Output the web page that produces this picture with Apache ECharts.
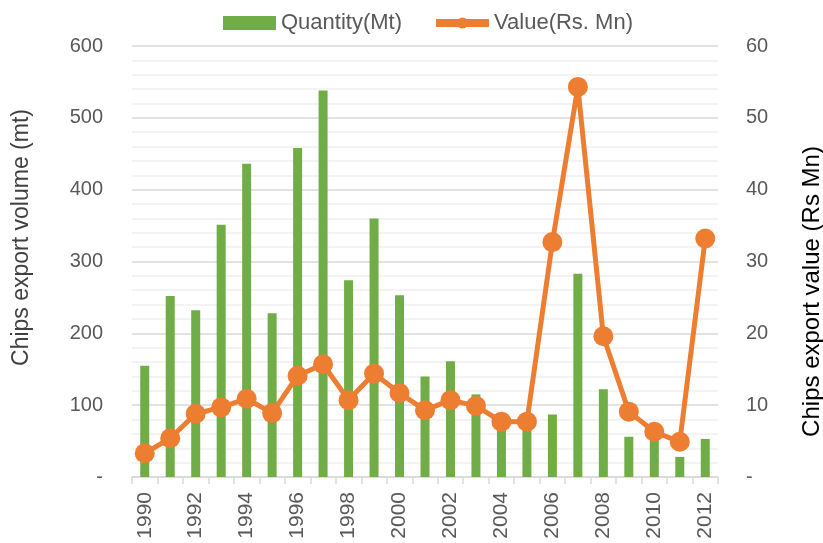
<!DOCTYPE html>
<html><head><meta charset="utf-8">
<script src="https://cdn.jsdelivr.net/npm/echarts@6/dist/echarts.min.js"></script>
<style>html,body{margin:0;padding:0;background:#fff}#c{width:823px;height:543px}</style>
</head><body><div id="c"></div>
<script>
const years = ['1990','1991','1992','1993','1994','1995','1996','1997','1998','1999','2000','2001','2002','2003','2004','2005','2006','2007','2008','2009','2010','2011','2012'];
const quantity = [155,252,232,351,436,228,458,538,274,360,253,140,161,115,75,76,87,283,122,56,55,28,53];
const value = [3.3,5.4,8.8,9.7,10.9,8.9,14.1,15.7,10.7,14.4,11.7,9.3,10.7,9.9,7.7,7.7,32.7,54.3,19.6,9.1,6.3,4.9,33.2];
const leftTicks = {min:0,max:600,interval:100};
const rightTicks = {min:0,max:60,interval:10};
const font = 'Liberation Sans, Arial, sans-serif';
const chart = echarts.init(document.getElementById('c'));
const yBase = {
  type:'value',
  nameLocation:'middle', nameRotate:90,
  axisLine:{show:false}, axisTick:{show:false},
  axisLabel:{color:'#595959',fontSize:20,fontFamily:font,formatter:v=>v===0?'-':String(v)},
  splitLine:{show:true,lineStyle:{color:'#d9d9d9',width:1.5}},
  minorTick:{show:false,splitNumber:5},
  minorSplitLine:{show:true,lineStyle:{color:'#f0f0f0',width:1.5}}
};
chart.setOption({
  animation:false,
  textStyle:{fontFamily:font},
  legend:{top:7,left:218,itemGap:30,itemWidth:53,itemHeight:14,
    textStyle:{color:'#595959',fontSize:22,fontFamily:font},
    data:[{name:'Quantity(Mt)',icon:'rect'},
          {name:'Value(Rs. Mn)',lineStyle:{width:8,color:'#ED7D31'},itemStyle:{color:'#ED7D31'}}]},
  grid:{left:132,right:105,top:46,bottom:66,outerBoundsMode:'none',containLabel:false},
  xAxis:{type:'category',data:years,boundaryGap:true,
    axisLine:{lineStyle:{color:'#d9d9d9',width:1.5}},
    axisTick:{show:true,length:7,interval:0,lineStyle:{color:'#d9d9d9',width:1.5}},
    axisLabel:{rotate:90,interval:1,color:'#595959',fontSize:21,fontFamily:font,margin:15}},
  yAxis:[
    Object.assign({},yBase,{name:'Chips export volume (mt)',nameGap:99,position:'left',
      nameTextStyle:{color:'#404040',fontSize:23,fontFamily:font,padding:[0,0,0,48]},
      min:leftTicks.min,max:leftTicks.max,interval:leftTicks.interval,
      axisLabel:Object.assign({},yBase.axisLabel,{margin:29})}),
    Object.assign({},yBase,{name:'Chips export value (Rs Mn)',nameGap:82,position:'right',
      nameTextStyle:{color:'#000000',fontSize:24,fontFamily:font,padding:[0,60,0,0]},
      min:rightTicks.min,max:rightTicks.max,interval:rightTicks.interval,
      splitLine:{show:false},minorSplitLine:{show:false},
      axisLabel:Object.assign({},yBase.axisLabel,{margin:28})})
  ],
  series:[
    {name:'Quantity(Mt)',type:'bar',data:quantity,yAxisIndex:0,barWidth:9,itemStyle:{color:'#70AD47'}},
    {name:'Value(Rs. Mn)',type:'line',data:value,yAxisIndex:1,symbol:'circle',symbolSize:20,showAllSymbol:true,
      lineStyle:{color:'#ED7D31',width:5},itemStyle:{color:'#ED7D31'}}
  ]
});
</script></body></html>
